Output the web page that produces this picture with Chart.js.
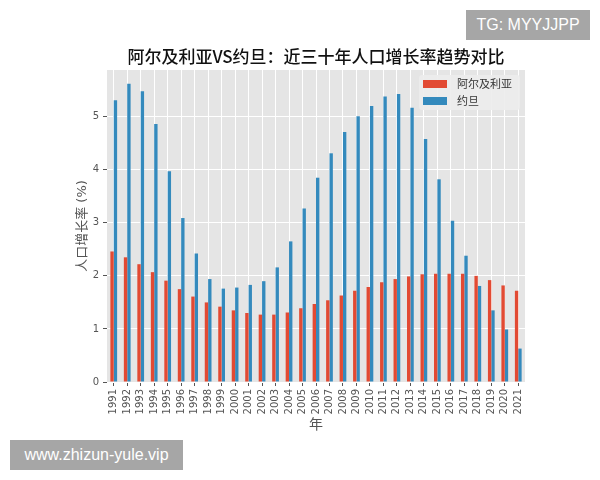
<!DOCTYPE html>
<html>
<head>
<meta charset="utf-8">
<script src="https://cdn.jsdelivr.net/npm/chart.js@4"></script>
<style>
  html, body { margin: 0; padding: 0; background: #fff; }
  #wrap { position: relative; width: 600px; height: 480px; }
  .wm { position: absolute; background: #a6a6a6; color: #fff; font-family: 'Liberation Sans', Arial, sans-serif;
        font-size: 16px; height: 30px; line-height: 30px; text-align: center; }
</style>
</head>
<body>
<div id="wrap">
  <canvas id="c" width="600" height="480"></canvas>
  <div class="wm" style="left:466px; top:10px; width:124px;">TG: MYYJJPP</div>
  <div class="wm" style="left:10px; top:440px; width:173px;">www.zhizun-yule.vip</div>
</div>
<script>
// data
const years = ['1991','1992','1993','1994','1995','1996','1997','1998','1999','2000',
               '2001','2002','2003','2004','2005','2006','2007','2008','2009','2010',
               '2011','2012','2013','2014','2015','2016','2017','2018','2019','2020','2021'];
const algeria = [2.46, 2.35, 2.22, 2.07, 1.91, 1.75, 1.61, 1.50, 1.42, 1.35,
                 1.30, 1.27, 1.27, 1.31, 1.39, 1.47, 1.54, 1.63, 1.72, 1.79,
                 1.88, 1.94, 1.99, 2.03, 2.04, 2.04, 2.04, 2.00, 1.92, 1.82, 1.72];
const jordan = [5.31, 5.62, 5.48, 4.86, 3.97, 3.09, 2.42, 1.94, 1.76, 1.78,
                1.83, 1.90, 2.16, 2.65, 3.27, 3.85, 4.31, 4.71, 5.01, 5.20,
                5.38, 5.43, 5.17, 4.58, 3.82, 3.04, 2.38, 1.81, 1.35, 0.99, 0.63];
const yTicks = [0, 1, 2, 3, 4, 5];

const txtFont = "'DejaVu Sans', 'Noto Sans CJK SC', sans-serif";

// grey panel behind the bars (ggplot look)
const panelBg = {
    id: 'panelBg',
    beforeDraw(chart){
        const a = chart.chartArea, ctx = chart.ctx;
        ctx.save();
        ctx.fillStyle = '#E5E5E5';
        ctx.fillRect(a.left, a.top, a.right - a.left, a.bottom - a.top);
        ctx.restore();
    }
};

// legend drawn inside the plot, top right
const innerLegend = {
    id: 'innerLegend',
    afterDatasetsDraw(chart){
        const a = chart.chartArea, ctx = chart.ctx;
        const w = 101, h = 35;
        const x = a.right - 5 - w, y = a.top + 5;
        ctx.save();
        ctx.fillStyle = 'rgba(236,236,236,0.9)';
        ctx.beginPath();
        ctx.roundRect(x, y, w, h, 3);
        ctx.fill();
        ctx.font = "11px 'Noto Sans CJK SC', sans-serif";
        ctx.textBaseline = 'middle';
        chart.data.datasets.forEach((ds, i) => {
            const cy = y + 9 + i * 17;
            ctx.fillStyle = ds.backgroundColor;
            ctx.fillRect(x + 4, cy - 4, 24, 8);
            ctx.fillStyle = '#333';
            ctx.fillText(ds.label, x + 38, cy);
        });
        ctx.restore();
    }
};

new Chart(document.getElementById('c'), {
    type: 'bar',
    data: {
        labels: years,
        datasets: [
            { label: '阿尔及利亚', data: algeria, backgroundColor: '#E24A33',
              categoryPercentage: 0.5, barPercentage: 1.0 },
            { label: '约旦', data: jordan, backgroundColor: '#348ABD',
              categoryPercentage: 0.5, barPercentage: 1.0 }
        ]
    },
    options: {
        responsive: false,
        animation: false,
        layout: { padding: { left: 0, right: 75, top: 0, bottom: 0 } },
        plugins: {
            legend: { display: false },
            tooltip: { enabled: false },
            title: {
                display: true,
                fullSize: false,
                text: '阿尔及利亚VS约旦：近三十年人口增长率趋势对比',
                color: '#111',
                font: { family: "'Noto Sans CJK SC', sans-serif", size: 17, weight: '500', lineHeight: 1.2 },
                padding: { top: 46, bottom: 3.6 }
            }
        },
        scales: {
            x: {
                offset: true,
                border: { display: false },
                grid: { offset: false, color: '#fff', lineWidth: 1, tickColor: '#555', tickLength: 4 },
                ticks: { color: '#555', font: { family: txtFont, size: 10 }, minRotation: 90, maxRotation: 90,
                         autoSkip: false, padding: 3 },
                title: { display: true, text: '年', color: '#555', font: { family: txtFont, size: 14 },
                         padding: { top: 0, bottom: 46 } },
                afterFit(scale){ scale.height = 98; }
            },
            y: {
                min: 0,
                max: 5.88,
                border: { display: false },
                grid: { color: '#fff', lineWidth: 1, tickColor: '#555', tickLength: 4 },
                ticks: { color: '#555', font: { family: txtFont, size: 10 }, padding: 4 },
                afterBuildTicks(scale){ scale.ticks = yTicks.map(v => ({ value: v })); },
                title: { display: true, text: '人口增长率 (%)', color: '#555', font: { family: txtFont, size: 13 },
                         padding: { top: 75, bottom: 0 } },
                afterFit(scale){ scale.width = 107; }
            }
        }
    },
    plugins: [panelBg, innerLegend]
});
</script>
</body>
</html>
